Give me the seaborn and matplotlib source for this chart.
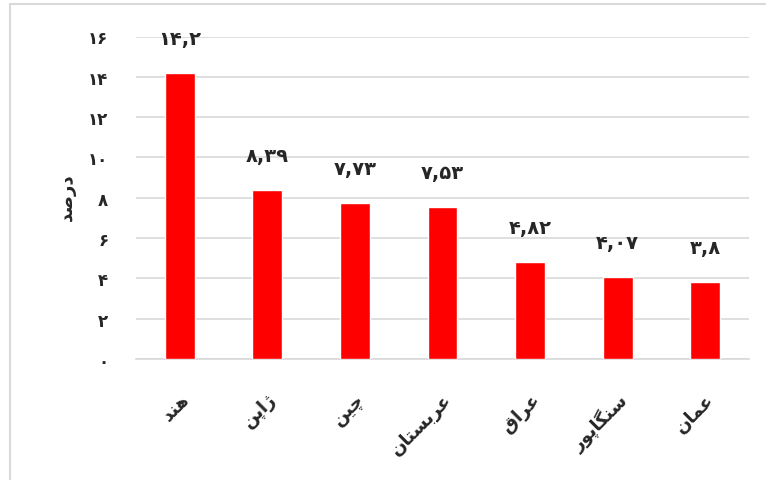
import matplotlib
matplotlib.use("Agg")
import matplotlib.pyplot as plt
import seaborn as sns
import pandas as pd
from matplotlib.patches import Rectangle
from matplotlib.ticker import FuncFormatter

countries = ["هند", "ژاپن", "چین", "عربستان", "عراق", "سنگاپور", "عمان"]
values = [14.2, 8.39, 7.73, 7.53, 4.82, 4.07, 3.8]
value_labels = ["14,2", "8,39", "7,73", "7,53", "4,82", "4,07", "3,8"]
y_ticks = [0, 2, 4, 6, 8, 10, 12, 14, 16]
y_title = "درصد"

# --- minimal Arabic/Persian shaping (presentation forms) ---
FORMS = {
    "ا": (0xFE8D, 0xFE8E), "د": (0xFEA9, 0xFEAA), "ر": (0xFEAD, 0xFEAE),
    "ژ": (0xFB8A, 0xFB8B), "و": (0xFEED, 0xFEEE),
    "ب": (0xFE8F, 0xFE90, 0xFE91, 0xFE92), "پ": (0xFB56, 0xFB57, 0xFB58, 0xFB59),
    "ت": (0xFE95, 0xFE96, 0xFE97, 0xFE98), "چ": (0xFB7A, 0xFB7B, 0xFB7C, 0xFB7D),
    "س": (0xFEB1, 0xFEB2, 0xFEB3, 0xFEB4), "ص": (0xFEB9, 0xFEBA, 0xFEBB, 0xFEBC),
    "ع": (0xFEC9, 0xFECA, 0xFECB, 0xFECC), "ق": (0xFED5, 0xFED6, 0xFED7, 0xFED8),
    "ک": (0xFB8E, 0xFB8F, 0xFB90, 0xFB91), "گ": (0xFB92, 0xFB93, 0xFB94, 0xFB95),
    "م": (0xFEE1, 0xFEE2, 0xFEE3, 0xFEE4), "ن": (0xFEE5, 0xFEE6, 0xFEE7, 0xFEE8),
    "ه": (0xFEE9, 0xFEEA, 0xFEEB, 0xFEEC), "ی": (0xFBFC, 0xFBFD, 0xFBFE, 0xFBFF),
}


def shape(text):
    out = []
    n = len(text)
    for i, ch in enumerate(text):
        f = FORMS.get(ch)
        if f is None:
            out.append(ch)
            continue
        prev = text[i - 1] if i > 0 else None
        nxt = text[i + 1] if i < n - 1 else None
        jp = prev in FORMS and len(FORMS[prev]) == 4
        jn = len(f) == 4 and nxt in FORMS
        if jp and jn:
            c = f[3]
        elif jp:
            c = f[1]
        elif jn:
            c = f[2]
        else:
            c = f[0]
        out.append(chr(c))
    return "".join(reversed(out))


FA_DIGITS = str.maketrans("0123456789", "۰۱۲۳۴۵۶۷۸۹")


def fa(s):
    return str(s).translate(FA_DIGITS)


sns.set_theme(style="white")
plt.rcParams["font.family"] = ["DejaVu Sans"]

df = pd.DataFrame({"country": [shape(c) for c in countries], "value": values})

fig = plt.figure(figsize=(7.66, 4.81), dpi=100)
ax = fig.add_axes([136 / 766, 1 - 360 / 481, (749 - 136) / 766, (360 - 37.5) / 481])

sns.barplot(data=df, x="country", y="value", color="#FF0000", saturation=1,
            width=0.34, ax=ax, zorder=3)

ax.set_ylim(0, 16)
ax.set_yticks(y_ticks)
ax.yaxis.set_major_formatter(FuncFormatter(lambda v, p: fa(int(round(v)))))
ax.grid(axis="y", color="#D9D9D9", linewidth=1.2, zorder=0)
ax.grid(axis="x", visible=False)
for s in ["left", "right", "top"]:
    ax.spines[s].set_visible(False)
ax.spines["bottom"].set_color("#D9D9D9")
ax.spines["bottom"].set_linewidth(1.2)
ax.tick_params(axis="y", length=0, pad=20, labelsize=12)
ax.tick_params(axis="x", length=0, pad=22, labelsize=13)
for lbl in ax.get_yticklabels():
    lbl.set_fontweight("bold")
for lbl in ax.get_xticklabels():
    lbl.set_rotation(45)
    lbl.set_ha("right")
    lbl.set_va("top")
    lbl.set_rotation_mode("anchor")
    lbl.set_fontweight("bold")
ax.set_xlabel("")
ax.set_ylabel("")

for i, (v, t) in enumerate(zip(values, value_labels)):
    ax.annotate(fa(t), xy=(i, v), xytext=(0, 18), textcoords="offset points",
                ha="center", va="bottom", fontsize=14, fontweight="bold")

fig.text(67 / 766, 1 - 197 / 481, shape(y_title), rotation=90, ha="center",
         va="center", fontsize=13, fontweight="bold")

fig.patches.append(Rectangle((10 / 766, -0.05), 1.0, 1 - 5 / 481 + 0.05,
                             transform=fig.transFigure, fill=False,
                             edgecolor="#D9D9D9", linewidth=1.5))

fig.savefig("out.png", dpi=100)
